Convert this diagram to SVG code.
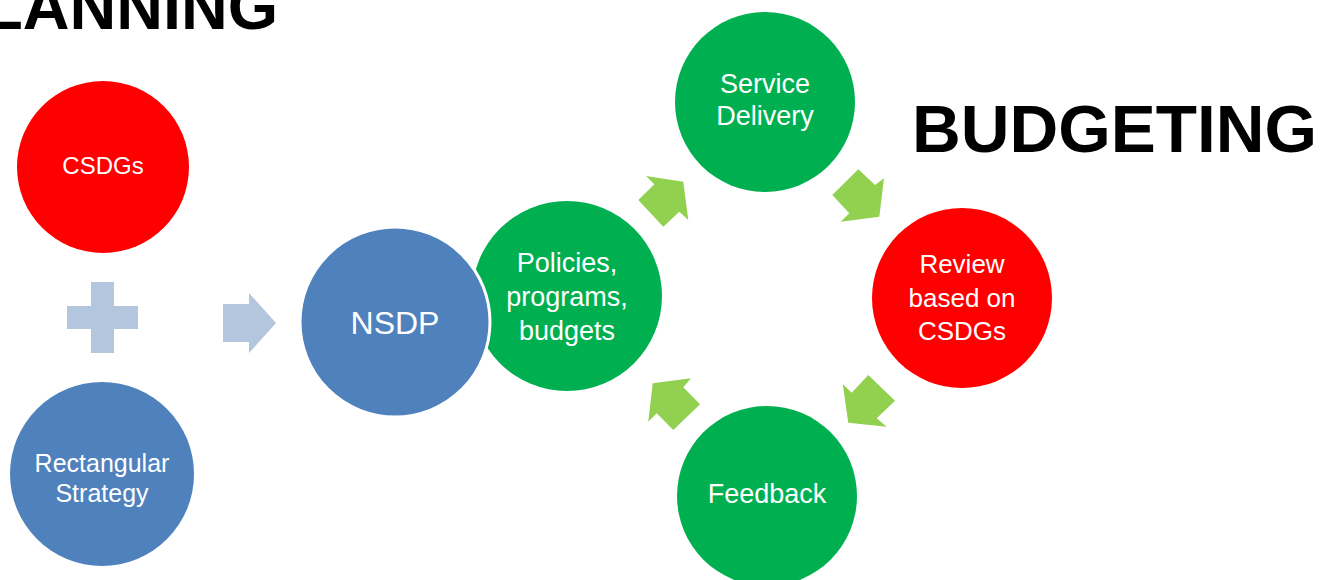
<svg xmlns="http://www.w3.org/2000/svg" width="1336" height="580" viewBox="0 0 1336 580">
<style>
.lbl{font-family:"Liberation Sans",Arial,sans-serif;fill:#fff;text-anchor:middle}
.hd{font-family:"Liberation Sans",Arial,sans-serif;font-weight:bold;fill:#000}
.red{fill:#ff0000}.grn{fill:#00b050}.blu{fill:#4f81bd}
.ga{fill:#92d050}.pa{fill:#b4c5de}
</style>
<rect width="1336" height="580" fill="#fff"/>
<text class="hd" x="278" y="29" font-size="64" text-anchor="end" textLength="338" lengthAdjust="spacingAndGlyphs">PLANNING</text>
<text class="hd" x="912" y="152" font-size="66" textLength="405" lengthAdjust="spacingAndGlyphs">BUDGETING</text>
<g id="connectors">
<path class="pa" d="M67,306H91V282H114V306H138V329H114V353H91V329H67Z"/>
<path class="pa" d="M223,304H249V293L276,323L249,353V342H223Z"/>
<polygon class="ga" points="646,176 683.3,181.7 688.3,220 679.3,211.7 663.3,226.7 638.3,200 654.3,184.3"/>
<polygon class="ga" points="858.3,169.3 875,185 884,178.3 879.3,216.7 840.7,221.7 849.3,213.3 832.3,195"/>
<polygon class="ga" points="868.3,375 895,400.7 876.7,418.3 886.7,426.7 848.3,422.7 842.7,384 851.7,392.7"/>
<polygon class="ga" points="691,378.3 683.3,387.3 700,404.3 673.3,430 656.7,413.3 648.3,421.7 652.7,383.3"/>
</g>
<g id="csdgs"><circle class="red" cx="103" cy="167" r="86"/><text class="lbl" x="103" y="174" font-size="24">CSDGs</text></g>
<g id="rect-strategy"><circle class="blu" cx="102" cy="474" r="92"/><text class="lbl" x="102" y="472" font-size="25">Rectangular</text><text class="lbl" x="102" y="502" font-size="25">Strategy</text></g>
<g id="policies"><circle class="grn" cx="567" cy="296" r="95"/><text class="lbl" x="567" y="272" font-size="27">Policies,</text><text class="lbl" x="567" y="306" font-size="27">programs,</text><text class="lbl" x="567" y="340" font-size="27">budgets</text></g>
<g id="nsdp"><circle class="blu" cx="395" cy="322" r="95" stroke="#fff" stroke-width="3"/><text class="lbl" x="395" y="334" font-size="32">NSDP</text></g>
<g id="service"><circle class="grn" cx="765" cy="102" r="90"/><text class="lbl" x="765" y="93" font-size="27">Service</text><text class="lbl" x="765" y="125" font-size="27">Delivery</text></g>
<g id="review"><circle class="red" cx="962" cy="298" r="90"/><text class="lbl" x="962" y="273" font-size="26">Review</text><text class="lbl" x="962" y="307" font-size="26">based on</text><text class="lbl" x="962" y="340" font-size="26">CSDGs</text></g>
<g id="feedback"><circle class="grn" cx="767" cy="496" r="90"/><text class="lbl" x="767" y="503" font-size="27">Feedback</text></g>
</svg>
